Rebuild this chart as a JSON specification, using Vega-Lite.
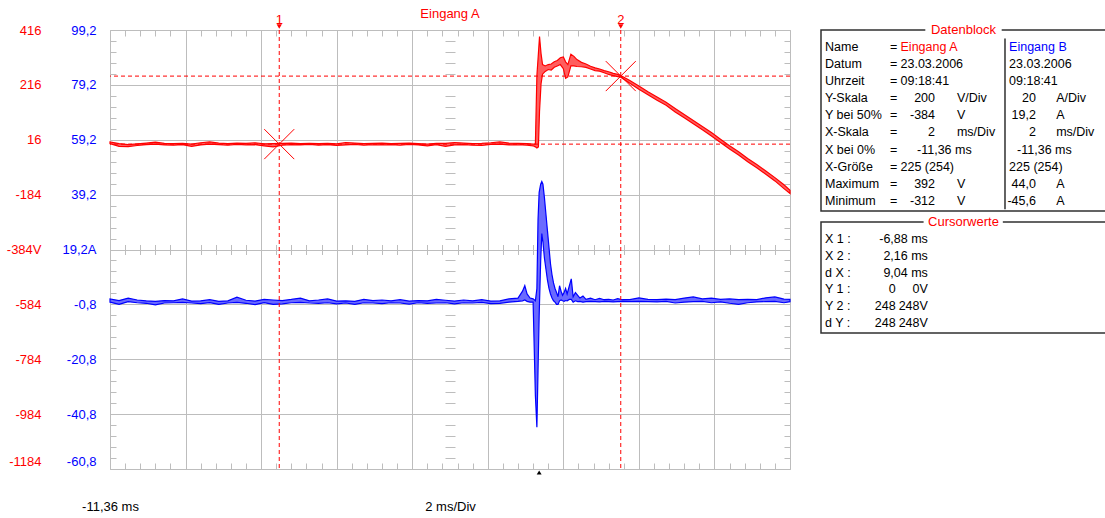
{
  "$schema": "https://vega.github.io/schema/vega-lite/v6.json",
  "padding": {"left": 6, "top": 8, "right": 0, "bottom": 0},
  "background": "white",
  "spacing": 27,
  "resolve": {"scale": {"x": "independent", "y": "independent"}},
  "config": {
    "view": {"stroke": null},
    "font": "Liberation Sans",
    "text": {"font": "Liberation Sans", "fontSize": 13, "color": "#000000"},
    "axis": {"labelFont": "Liberation Sans", "labelFontSize": 13, "titleFont": "Liberation Sans", "titleFontSize": 13, "titleFontWeight": "normal", "titleColor": "#000000", "labelColor": "#000000", "domain": false, "gridColor": "#bdbdbd", "gridWidth": 1, "tickColor": "#bdbdbd", "tickWidth": 1}
  },
  "datasets": {
    "red": [
      {"t": -11.36, "lo": 2, "hi": 8}, {"t": -11.12, "lo": -8, "hi": 2}, {"t": -10.88, "lo": -9, "hi": -2}, {"t": -10.64, "lo": -5, "hi": 1},
      {"t": -10.4, "lo": -2, "hi": 4}, {"t": -10.16, "lo": 0, "hi": 7}, {"t": -9.92, "lo": -3, "hi": 3}, {"t": -9.68, "lo": -4, "hi": 2},
      {"t": -9.44, "lo": -2, "hi": 3}, {"t": -9.2, "lo": -8, "hi": 0}, {"t": -8.96, "lo": -3, "hi": 5}, {"t": -8.72, "lo": 0, "hi": 8},
      {"t": -8.48, "lo": -2, "hi": 4}, {"t": -8.24, "lo": -4, "hi": 2}, {"t": -8.0, "lo": -1, "hi": 4}, {"t": -7.76, "lo": -3, "hi": 3},
      {"t": -7.52, "lo": -2, "hi": 5}, {"t": -7.28, "lo": -6, "hi": 1}, {"t": -7.04, "lo": -10, "hi": 2}, {"t": -6.8, "lo": -4, "hi": 3},
      {"t": -6.56, "lo": -2, "hi": 4}, {"t": -6.32, "lo": -3, "hi": 2}, {"t": -6.08, "lo": -1, "hi": 3}, {"t": -5.84, "lo": -4, "hi": 2},
      {"t": -5.6, "lo": -2, "hi": 3}, {"t": -5.36, "lo": -5, "hi": 1}, {"t": -5.12, "lo": -3, "hi": 6}, {"t": -4.88, "lo": -1, "hi": 4},
      {"t": -4.64, "lo": -4, "hi": 2}, {"t": -4.4, "lo": -2, "hi": 3}, {"t": -4.16, "lo": -3, "hi": 4}, {"t": -3.92, "lo": -2, "hi": 2},
      {"t": -3.68, "lo": -4, "hi": 3}, {"t": -3.44, "lo": -1, "hi": 4}, {"t": -3.2, "lo": -3, "hi": 2}, {"t": -2.96, "lo": -6, "hi": 0},
      {"t": -2.72, "lo": -2, "hi": 3}, {"t": -2.48, "lo": -8, "hi": 3}, {"t": -2.24, "lo": -3, "hi": 6}, {"t": -2.0, "lo": -2, "hi": 4},
      {"t": -1.76, "lo": -4, "hi": 2}, {"t": -1.52, "lo": -5, "hi": 3}, {"t": -1.28, "lo": -1, "hi": 5}, {"t": -1.04, "lo": 0, "hi": 8},
      {"t": -0.8, "lo": -3, "hi": 4}, {"t": -0.56, "lo": -2, "hi": 3}, {"t": -0.32, "lo": -4, "hi": 2}, {"t": -0.16, "lo": -6, "hi": 0},
      {"t": -0.1, "lo": -10, "hi": 0}, {"t": -0.06, "lo": -14, "hi": 250}, {"t": -0.02, "lo": -10, "hi": 330}, {"t": 0.01, "lo": 120, "hi": 392},
      {"t": 0.05, "lo": 220, "hi": 330}, {"t": 0.09, "lo": 255, "hi": 290}, {"t": 0.16, "lo": 265, "hi": 285}, {"t": 0.24, "lo": 272, "hi": 290},
      {"t": 0.32, "lo": 270, "hi": 292}, {"t": 0.4, "lo": 280, "hi": 300}, {"t": 0.48, "lo": 285, "hi": 305}, {"t": 0.56, "lo": 290, "hi": 315},
      {"t": 0.64, "lo": 275, "hi": 318}, {"t": 0.7, "lo": 240, "hi": 300}, {"t": 0.76, "lo": 245, "hi": 290}, {"t": 0.84, "lo": 285, "hi": 328},
      {"t": 0.92, "lo": 285, "hi": 320}, {"t": 1.0, "lo": 283, "hi": 308}, {"t": 1.12, "lo": 282, "hi": 298}, {"t": 1.24, "lo": 280, "hi": 292},
      {"t": 1.36, "lo": 274, "hi": 284}, {"t": 1.48, "lo": 268, "hi": 278}, {"t": 1.6, "lo": 266, "hi": 274}, {"t": 1.72, "lo": 260, "hi": 268},
      {"t": 1.84, "lo": 254, "hi": 264}, {"t": 1.96, "lo": 250, "hi": 258}, {"t": 2.08, "lo": 246, "hi": 254}, {"t": 2.16, "lo": 244, "hi": 250},
      {"t": 2.4, "lo": 222, "hi": 232}, {"t": 2.64, "lo": 200, "hi": 212}, {"t": 2.88, "lo": 180, "hi": 191}, {"t": 3.12, "lo": 160, "hi": 172},
      {"t": 3.36, "lo": 142, "hi": 153}, {"t": 3.6, "lo": 117, "hi": 130}, {"t": 3.84, "lo": 96, "hi": 108}, {"t": 4.08, "lo": 74, "hi": 86},
      {"t": 4.32, "lo": 52, "hi": 64}, {"t": 4.56, "lo": 30, "hi": 42}, {"t": 4.8, "lo": 6, "hi": 18}, {"t": 5.04, "lo": -18, "hi": -6},
      {"t": 5.28, "lo": -40, "hi": -28}, {"t": 5.52, "lo": -64, "hi": -52}, {"t": 5.76, "lo": -86, "hi": -74}, {"t": 6.0, "lo": -110, "hi": -98},
      {"t": 6.24, "lo": -134, "hi": -122}, {"t": 6.48, "lo": -162, "hi": -148}, {"t": 6.64, "lo": -180, "hi": -168}
    ],
    "blue": [
      {"t": -11.36, "lo": 0, "hi": 1.2}, {"t": -11.12, "lo": -0.8, "hi": 0.6}, {"t": -10.88, "lo": 0.2, "hi": 1.5}, {"t": -10.64, "lo": -0.2, "hi": 0.8},
      {"t": -10.4, "lo": -0.4, "hi": 0.5}, {"t": -10.16, "lo": -1.0, "hi": 0.3}, {"t": -9.92, "lo": -0.3, "hi": 0.6}, {"t": -9.68, "lo": -0.2, "hi": 0.5},
      {"t": -9.44, "lo": -0.1, "hi": 1.2}, {"t": -9.2, "lo": -0.3, "hi": 0.4}, {"t": -8.96, "lo": -0.5, "hi": 0.5}, {"t": -8.72, "lo": -0.2, "hi": 0.9},
      {"t": -8.48, "lo": -0.8, "hi": 0.3}, {"t": -8.24, "lo": -0.3, "hi": 0.5}, {"t": -8.0, "lo": -0.1, "hi": 1.8}, {"t": -7.76, "lo": -0.4, "hi": 0.7},
      {"t": -7.52, "lo": -0.9, "hi": 0.4}, {"t": -7.28, "lo": -0.2, "hi": 1.0}, {"t": -7.04, "lo": -0.8, "hi": 0.8}, {"t": -6.8, "lo": -0.6, "hi": 0.6},
      {"t": -6.56, "lo": -0.2, "hi": 1.0}, {"t": -6.32, "lo": -0.1, "hi": 1.5}, {"t": -6.08, "lo": -0.3, "hi": 0.5}, {"t": -5.84, "lo": -0.4, "hi": 0.8},
      {"t": -5.6, "lo": -0.2, "hi": 1.2}, {"t": -5.36, "lo": -0.6, "hi": 0.4}, {"t": -5.12, "lo": -0.3, "hi": 0.5}, {"t": -4.88, "lo": -0.8, "hi": 0.3},
      {"t": -4.64, "lo": -0.2, "hi": 1.0}, {"t": -4.4, "lo": -0.3, "hi": 0.6}, {"t": -4.16, "lo": -0.5, "hi": 0.8}, {"t": -3.92, "lo": -0.2, "hi": 0.5},
      {"t": -3.68, "lo": -0.3, "hi": 0.9}, {"t": -3.44, "lo": -0.7, "hi": 0.4}, {"t": -3.2, "lo": -0.2, "hi": 0.6}, {"t": -2.96, "lo": -0.4, "hi": 0.5},
      {"t": -2.72, "lo": -0.3, "hi": 1.0}, {"t": -2.48, "lo": -0.2, "hi": 0.7}, {"t": -2.24, "lo": -0.6, "hi": 0.4}, {"t": -2.0, "lo": -0.2, "hi": 0.8},
      {"t": -1.76, "lo": -0.3, "hi": 0.5}, {"t": -1.52, "lo": -0.1, "hi": 0.9}, {"t": -1.28, "lo": -0.5, "hi": 0.4}, {"t": -1.04, "lo": -0.4, "hi": 0.5},
      {"t": -0.8, "lo": 0.0, "hi": 1.2}, {"t": -0.56, "lo": 0.3, "hi": 1.5}, {"t": -0.44, "lo": 0.5, "hi": 4.0}, {"t": -0.38, "lo": 0.8, "hi": 6.0},
      {"t": -0.32, "lo": 0.3, "hi": 3.0}, {"t": -0.24, "lo": 0.0, "hi": 1.5}, {"t": -0.16, "lo": 0.0, "hi": 1.2}, {"t": -0.1, "lo": -34, "hi": 0.5},
      {"t": -0.06, "lo": -45.6, "hi": 5}, {"t": -0.03, "lo": -25, "hi": 30}, {"t": 0.0, "lo": -5, "hi": 40}, {"t": 0.04, "lo": 15, "hi": 43},
      {"t": 0.07, "lo": 25, "hi": 44}, {"t": 0.1, "lo": 22, "hi": 43}, {"t": 0.14, "lo": 16, "hi": 38}, {"t": 0.18, "lo": 12, "hi": 32},
      {"t": 0.22, "lo": 8, "hi": 26}, {"t": 0.26, "lo": 5, "hi": 20}, {"t": 0.3, "lo": 3, "hi": 14}, {"t": 0.34, "lo": 1.5, "hi": 10},
      {"t": 0.38, "lo": 0.5, "hi": 7}, {"t": 0.42, "lo": 0.0, "hi": 5}, {"t": 0.46, "lo": -0.8, "hi": 3.5}, {"t": 0.5, "lo": -0.8, "hi": 2},
      {"t": 0.54, "lo": 0.5, "hi": 6}, {"t": 0.58, "lo": 0.8, "hi": 4}, {"t": 0.62, "lo": 0.5, "hi": 2.5}, {"t": 0.66, "lo": 0.3, "hi": 3.5},
      {"t": 0.7, "lo": 0.6, "hi": 5}, {"t": 0.74, "lo": 0.5, "hi": 3}, {"t": 0.8, "lo": 1.0, "hi": 6}, {"t": 0.85, "lo": 1.0, "hi": 8.5},
      {"t": 0.9, "lo": 0.0, "hi": 2}, {"t": 0.96, "lo": 0.5, "hi": 3.5}, {"t": 1.02, "lo": 0.2, "hi": 2.5}, {"t": 1.08, "lo": 0.3, "hi": 1.5},
      {"t": 1.16, "lo": 0.0, "hi": 2.2}, {"t": 1.24, "lo": 0.2, "hi": 1.0}, {"t": 1.36, "lo": 0.3, "hi": 1.5}, {"t": 1.48, "lo": 0.2, "hi": 0.9},
      {"t": 1.6, "lo": 0.1, "hi": 1.4}, {"t": 1.72, "lo": 0.3, "hi": 0.9}, {"t": 1.84, "lo": 0.2, "hi": 1.0}, {"t": 1.96, "lo": 0.1, "hi": 0.8},
      {"t": 2.08, "lo": 0.2, "hi": 1.3}, {"t": 2.2, "lo": 0.3, "hi": 0.9}, {"t": 2.4, "lo": 0.2, "hi": 0.9}, {"t": 2.64, "lo": 0.3, "hi": 1.6},
      {"t": 2.88, "lo": 0.2, "hi": 1.0}, {"t": 3.12, "lo": 0.1, "hi": 0.9}, {"t": 3.36, "lo": 0.3, "hi": 1.1}, {"t": 3.6, "lo": -0.3, "hi": 0.9},
      {"t": 3.84, "lo": 0.0, "hi": 1.5}, {"t": 4.08, "lo": 0.2, "hi": 1.9}, {"t": 4.32, "lo": 0.3, "hi": 1.2}, {"t": 4.56, "lo": -0.2, "hi": 1.5},
      {"t": 4.8, "lo": 0.1, "hi": 1.0}, {"t": 5.04, "lo": -0.4, "hi": 1.2}, {"t": 5.28, "lo": -0.8, "hi": 0.9}, {"t": 5.52, "lo": -0.2, "hi": 1.0},
      {"t": 5.76, "lo": 0.1, "hi": 0.9}, {"t": 6.0, "lo": 0.2, "hi": 1.6}, {"t": 6.24, "lo": 0.3, "hi": 1.9}, {"t": 6.48, "lo": -0.2, "hi": 1.1},
      {"t": 6.64, "lo": 0.2, "hi": 1.0}
    ],
    "cursors": [
      {"t": -6.88, "v": 0, "label": "1"},
      {"t": 2.16, "v": 248, "label": "2"}
    ],
    "table": [
      {"row": 0, "col": "title", "text": "Datenblock"},
      {"row": 11.24, "col": "title", "text": "Cursorwerte"},
      {"row": 1, "col": "key", "text": "Name"}, {"row": 2, "col": "key", "text": "Datum"}, {"row": 3, "col": "key", "text": "Uhrzeit"},
      {"row": 4, "col": "key", "text": "Y-Skala"}, {"row": 5, "col": "key", "text": "Y bei 50%"}, {"row": 6, "col": "key", "text": "X-Skala"},
      {"row": 7, "col": "key", "text": "X bei 0%"}, {"row": 8, "col": "key", "text": "X-Größe"}, {"row": 9, "col": "key", "text": "Maximum"},
      {"row": 10, "col": "key", "text": "Minimum"},
      {"row": 1, "col": "eq", "text": "="}, {"row": 2, "col": "eq", "text": "="}, {"row": 3, "col": "eq", "text": "="}, {"row": 4, "col": "eq", "text": "="},
      {"row": 5, "col": "eq", "text": "="}, {"row": 6, "col": "eq", "text": "="}, {"row": 7, "col": "eq", "text": "="}, {"row": 8, "col": "eq", "text": "="},
      {"row": 9, "col": "eq", "text": "="}, {"row": 10, "col": "eq", "text": "="},
      {"row": 1, "col": "nameA", "text": "Eingang A"},
      {"row": 2, "col": "aL", "text": "23.03.2006"}, {"row": 3, "col": "aL", "text": "09:18:41"}, {"row": 8, "col": "aL", "text": "225 (254)"},
      {"row": 4, "col": "aR", "text": "200"}, {"row": 5, "col": "aR", "text": "-384"}, {"row": 6, "col": "aR", "text": "2"},
      {"row": 9, "col": "aR", "text": "392"}, {"row": 10, "col": "aR", "text": "-312"},
      {"row": 7, "col": "aM", "text": "-11,36 ms"},
      {"row": 4, "col": "aU", "text": "V/Div"}, {"row": 5, "col": "aU", "text": "V"}, {"row": 6, "col": "aU", "text": "ms/Div"},
      {"row": 9, "col": "aU", "text": "V"}, {"row": 10, "col": "aU", "text": "V"},
      {"row": 1, "col": "nameB", "text": "Eingang B"},
      {"row": 2, "col": "bL", "text": "23.03.2006"}, {"row": 3, "col": "bL", "text": "09:18:41"}, {"row": 8, "col": "bL", "text": "225 (254)"},
      {"row": 4, "col": "bR", "text": "20"}, {"row": 5, "col": "bR", "text": "19,2"}, {"row": 6, "col": "bR", "text": "2"},
      {"row": 9, "col": "bR", "text": "44,0"}, {"row": 10, "col": "bR", "text": "-45,6"},
      {"row": 7, "col": "bM", "text": "-11,36 ms"},
      {"row": 4, "col": "bU", "text": "A/Div"}, {"row": 5, "col": "bU", "text": "A"}, {"row": 6, "col": "bU", "text": "ms/Div"},
      {"row": 9, "col": "bU", "text": "A"}, {"row": 10, "col": "bU", "text": "A"},
      {"row": 12.24, "col": "key", "text": "X 1 :"}, {"row": 13.22, "col": "key", "text": "X 2 :"}, {"row": 14.2, "col": "key", "text": "d X :"},
      {"row": 15.18, "col": "key", "text": "Y 1 :"}, {"row": 16.16, "col": "key", "text": "Y 2 :"}, {"row": 17.14, "col": "key", "text": "d Y :"},
      {"row": 12.24, "col": "cv2", "text": "-6,88 ms"}, {"row": 13.22, "col": "cv2", "text": "2,16 ms"}, {"row": 14.2, "col": "cv2", "text": "9,04 ms"},
      {"row": 15.18, "col": "cv2", "text": "0V"}, {"row": 16.16, "col": "cv2", "text": "248V"}, {"row": 17.14, "col": "cv2", "text": "248V"},
      {"row": 15.18, "col": "cv1", "text": "0"}, {"row": 16.16, "col": "cv1", "text": "248"}, {"row": 17.14, "col": "cv1", "text": "248"}
    ]
  },
  "hconcat": [
    {
      "width": 680,
      "height": 439,
      "resolve": {"scale": {"y": "independent"}, "axis": {"x": "independent", "y": "independent"}},
      "layer": [
        {
          "data": {"name": "blue"},
          "mark": {"type": "area", "fill": "#6a6aff", "stroke": "#0000ff", "strokeWidth": 1.2, "fillOpacity": 1},
          "encoding": {
            "x": {"field": "t", "type": "quantitative", "scale": {"domain": [-11.36, 6.64], "nice": false, "zero": false},
              "axis": {"orient": "top", "values": [-11.36, -10.96, -10.56, -10.16, -9.76, -9.36, -8.96, -8.56, -8.16, -7.76, -7.36, -6.96, -6.56, -6.16, -5.76, -5.36, -4.96, -4.56, -4.16, -3.76, -3.36, -2.96, -2.56, -2.16, -1.76, -1.36, -0.96, -0.56, -0.16, 0.24, 0.64, 1.04, 1.44, 1.84, 2.24, 2.64, 3.04, 3.44, 3.84, 4.24, 4.64, 5.04, 5.44, 5.84, 6.24, 6.64], "labels": false, "grid": false, "ticks": true, "tickSize": -6, "title": null}},
            "y": {"field": "lo", "type": "quantitative", "scale": {"domain": [-60.8, 99.2], "nice": false, "zero": false},
              "axis": {"orient": "left", "offset": 0, "values": [99.2, 79.2, 59.2, 39.2, 19.2, -0.8, -20.8, -40.8, -60.8], "grid": true, "ticks": false, "tickSize": 0, "labelPadding": 14, "labelColor": "#0000ff", "labelExpr": "datum.value == 19.2 ? '19,2A' : replace('' + datum.value, '.', ',')", "labelOffset": {"condition": {"test": "datum.value < -60", "value": -8}, "value": 0}, "labelOverlap": false, "title": null}},
            "y2": {"field": "hi"}
          }
        },
        {
          "data": {"name": "red"},
          "mark": {"type": "area", "fill": "#ff5e5e", "stroke": "#ff0000", "strokeWidth": 1.2, "fillOpacity": 1},
          "encoding": {
            "x": {"field": "t", "type": "quantitative", "scale": {"domain": [-11.36, 6.64], "nice": false, "zero": false},
              "axis": {"orient": "bottom", "values": [-11.36, -9.36, -7.36, -5.36, -3.36, -1.36, 0.64, 2.64, 4.64, 6.64], "grid": true, "ticks": false, "tickSize": 0, "labelExpr": "datum.value < -11 ? '-11,36 ms' : ''", "labelPadding": 31, "labelFlush": false, "labelOverlap": false, "title": "2 ms/Div", "titlePadding": -13}},
            "y": {"field": "lo", "type": "quantitative", "scale": {"domain": [-1184, 416], "nice": false, "zero": false},
              "axis": {"orient": "left", "offset": 55, "values": [416, 216, 16, -184, -384, -584, -784, -984, -1184], "grid": false, "ticks": false, "tickSize": 0, "labelPadding": 14, "labelColor": "#ff0000", "labelExpr": "datum.value == -384 ? '-384V' : '' + datum.value", "labelOffset": {"condition": {"test": "datum.value < -1100", "value": -8}, "value": 0}, "labelOverlap": false, "title": null}},
            "y2": {"field": "hi"}
          }
        },
        {
          "data": {"name": "cursors"},
          "mark": {"type": "rule", "color": "#ff0000", "strokeWidth": 1, "strokeDash": [4, 3]},
          "encoding": {
            "x": {"field": "t", "type": "quantitative", "scale": {"domain": [-11.36, 6.64], "nice": false, "zero": false},
              "axis": {"orient": "bottom", "values": [-11.36, -10.96, -10.56, -10.16, -9.76, -9.36, -8.96, -8.56, -8.16, -7.76, -7.36, -6.96, -6.56, -6.16, -5.76, -5.36, -4.96, -4.56, -4.16, -3.76, -3.36, -2.96, -2.56, -2.16, -1.76, -1.36, -0.96, -0.56, -0.16, 0.24, 0.64, 1.04, 1.44, 1.84, 2.24, 2.64, 3.04, 3.44, 3.84, 4.24, 4.64, 5.04, 5.44, 5.84, 6.24, 6.64], "labels": false, "grid": false, "ticks": true, "tickSize": -6, "title": null}}
          }
        },
        {
          "data": {"name": "cursors"},
          "mark": {"type": "rule", "color": "#ff0000", "strokeWidth": 1, "strokeDash": [4, 3]},
          "encoding": {
            "y": {"field": "v", "type": "quantitative", "scale": {"domain": [-1184, 416], "nice": false, "zero": false},
              "axis": {"orient": "left", "offset": 0, "values": [-1184, -1144, -1104, -1064, -1024, -984, -944, -904, -864, -824, -784, -744, -704, -664, -624, -584, -544, -504, -464, -424, -384, -344, -304, -264, -224, -184, -144, -104, -64, -24, 16, 56, 96, 136, 176, 216, 256, 296, 336, 376, 416], "labels": false, "grid": false, "ticks": true, "tickSize": -6, "title": null}}
          }
        },
        {
          "data": {"name": "cursors"},
          "mark": {"type": "point", "shape": "M-1,-1L1,1M-1,1L1,-1", "size": 900, "filled": false, "stroke": "#ff0000", "strokeWidth": 1, "opacity": 1},
          "encoding": {
            "x": {"field": "t", "type": "quantitative", "scale": {"domain": [-11.36, 6.64], "nice": false, "zero": false},
              "axis": {"orient": "bottom", "offset": -224.5, "values": [-11.36, -10.96, -10.56, -10.16, -9.76, -9.36, -8.96, -8.56, -8.16, -7.76, -7.36, -6.96, -6.56, -6.16, -5.76, -5.36, -4.96, -4.56, -4.16, -3.76, -3.36, -2.96, -2.56, -2.16, -1.76, -1.36, -0.96, -0.56, -0.16, 0.24, 0.64, 1.04, 1.44, 1.84, 2.24, 2.64, 3.04, 3.44, 3.84, 4.24, 4.64, 5.04, 5.44, 5.84, 6.24, 6.64], "labels": false, "grid": false, "ticks": true, "tickSize": 10, "title": null}},
            "y": {"field": "v", "type": "quantitative", "scale": {"domain": [-1184, 416], "nice": false, "zero": false},
              "axis": {"orient": "right", "offset": 0, "values": [-1184, -1144, -1104, -1064, -1024, -984, -944, -904, -864, -824, -784, -744, -704, -664, -624, -584, -544, -504, -464, -424, -384, -344, -304, -264, -224, -184, -144, -104, -64, -24, 16, 56, 96, 136, 176, 216, 256, 296, 336, 376, 416], "labels": false, "grid": false, "ticks": true, "tickSize": -6, "title": null}}
          }
        },
        {
          "data": {"name": "cursors"},
          "mark": {"type": "text", "color": "#ff0000", "baseline": "middle", "align": "center", "dy": -10},
          "encoding": {
            "x": {"field": "t", "type": "quantitative", "scale": {"domain": [-11.36, 6.64], "nice": false, "zero": false}, "axis": null},
            "y": {"datum": 416, "type": "quantitative", "scale": {"domain": [-1184, 416], "nice": false, "zero": false},
              "axis": {"orient": "left", "offset": -345, "values": [-1184, -1144, -1104, -1064, -1024, -984, -944, -904, -864, -824, -784, -744, -704, -664, -624, -584, -544, -504, -464, -424, -384, -344, -304, -264, -224, -184, -144, -104, -64, -24, 16, 56, 96, 136, 176, 216, 256, 296, 336, 376, 416], "labels": false, "grid": false, "ticks": true, "tickSize": 10, "title": null}},
            "text": {"field": "label"}
          }
        },
        {
          "data": {"name": "cursors"},
          "mark": {"type": "point", "shape": "triangle-down", "filled": true, "color": "#ff0000", "size": 28, "opacity": 1, "yOffset": -3.5},
          "encoding": {
            "x": {"field": "t", "type": "quantitative", "scale": {"domain": [-11.36, 6.64], "nice": false, "zero": false}, "axis": null},
            "y": {"datum": 416, "type": "quantitative", "scale": {"domain": [-1184, 416], "nice": false, "zero": false}, "axis": null}
          }
        },
        {
          "data": {"values": [{"name": "Eingang A"}]},
          "mark": {"type": "text", "color": "#ff0000", "baseline": "middle", "align": "center", "dy": -16},
          "encoding": {
            "x": {"datum": -2.36, "type": "quantitative", "scale": {"domain": [-11.36, 6.64], "nice": false, "zero": false}, "axis": null},
            "y": {"datum": 416, "type": "quantitative", "scale": {"domain": [-1184, 416], "nice": false, "zero": false}, "axis": null},
            "text": {"field": "name"}
          }
        },
        {
          "data": {"values": [{}]},
          "mark": {"type": "point", "shape": "triangle-up", "filled": true, "color": "#000000", "size": 24, "opacity": 1, "yOffset": 3.5},
          "encoding": {
            "x": {"datum": 0, "type": "quantitative", "scale": {"domain": [-11.36, 6.64], "nice": false, "zero": false}, "axis": null},
            "y": {"datum": -1184, "type": "quantitative", "scale": {"domain": [-1184, 416], "nice": false, "zero": false}, "axis": null}
          }
        }
      ]
    },
    {
      "width": 285,
      "height": 304,
      "data": {"name": "table"},
      "layer": [
        {
          "data": {"values": [{}]},
          "mark": {"type": "rect", "fillOpacity": 0, "stroke": "#303030", "strokeWidth": 1.5},
          "encoding": {
            "x": {"datum": 0, "type": "quantitative", "scale": {"domain": [0, 100], "nice": false, "zero": false}, "axis": null},
            "x2": {"datum": 100},
            "y": {"datum": 0, "type": "quantitative", "scale": {"domain": [0, 17.8], "nice": false, "zero": false, "reverse": true}, "axis": null},
            "y2": {"datum": 10.6}
          }
        },
        {
          "data": {"values": [{}]},
          "mark": {"type": "rect", "fillOpacity": 0, "stroke": "#303030", "strokeWidth": 1.5},
          "encoding": {
            "x": {"datum": 0, "type": "quantitative", "axis": null},
            "x2": {"datum": 100},
            "y": {"datum": 11.24, "type": "quantitative", "axis": null},
            "y2": {"datum": 17.74}
          }
        },
        {
          "data": {"values": [{}]},
          "mark": {"type": "rule", "stroke": "#303030", "strokeWidth": 1.5},
          "encoding": {
            "x": {"datum": 64.56, "type": "quantitative", "axis": null},
            "y": {"datum": 0.5, "type": "quantitative", "axis": null},
            "y2": {"datum": 10.5}
          }
        },
        {
          "data": {"values": [{}]},
          "mark": {"type": "rect", "fill": "#ffffff", "fillOpacity": 1, "strokeWidth": 0},
          "encoding": {
            "x": {"datum": 36.6, "type": "quantitative", "axis": null},
            "x2": {"datum": 63.4},
            "y": {"datum": -0.4, "type": "quantitative", "axis": null},
            "y2": {"datum": 0.4}
          }
        },
        {
          "data": {"values": [{}]},
          "mark": {"type": "rect", "fill": "#ffffff", "fillOpacity": 1, "strokeWidth": 0},
          "encoding": {
            "x": {"datum": 36.0, "type": "quantitative", "axis": null},
            "x2": {"datum": 63.8},
            "y": {"datum": 10.84, "type": "quantitative", "axis": null},
            "y2": {"datum": 11.64}
          }
        },
        {
          "transform": [{"filter": "datum.col == 'title'"}],
          "mark": {"type": "text", "align": "center", "baseline": "middle", "color": "#ff0000", "fontSize": 13},
          "encoding": {"x": {"datum": 50, "type": "quantitative", "axis": null}, "y": {"field": "row", "type": "quantitative", "axis": null}, "text": {"field": "text"}}
        },
        {
          "transform": [{"filter": "datum.col == 'key'"}],
          "mark": {"type": "text", "align": "left", "baseline": "middle", "fontSize": 12.5},
          "encoding": {"x": {"datum": 1.4, "type": "quantitative", "axis": null}, "y": {"field": "row", "type": "quantitative", "axis": null}, "text": {"field": "text"}}
        },
        {
          "transform": [{"filter": "datum.col == 'eq'"}],
          "mark": {"type": "text", "align": "left", "baseline": "middle", "fontSize": 12.5},
          "encoding": {"x": {"datum": 24.2, "type": "quantitative", "axis": null}, "y": {"field": "row", "type": "quantitative", "axis": null}, "text": {"field": "text"}}
        },
        {
          "transform": [{"filter": "datum.col == 'nameA'"}],
          "mark": {"type": "text", "align": "left", "baseline": "middle", "color": "#ff0000", "fontSize": 12.5},
          "encoding": {"x": {"datum": 27.9, "type": "quantitative", "axis": null}, "y": {"field": "row", "type": "quantitative", "axis": null}, "text": {"field": "text"}}
        },
        {
          "transform": [{"filter": "datum.col == 'aL'"}],
          "mark": {"type": "text", "align": "left", "baseline": "middle", "fontSize": 12.5},
          "encoding": {"x": {"datum": 27.9, "type": "quantitative", "axis": null}, "y": {"field": "row", "type": "quantitative", "axis": null}, "text": {"field": "text"}}
        },
        {
          "transform": [{"filter": "datum.col == 'aR'"}],
          "mark": {"type": "text", "align": "right", "baseline": "middle", "fontSize": 12.5},
          "encoding": {"x": {"datum": 40.0, "type": "quantitative", "axis": null}, "y": {"field": "row", "type": "quantitative", "axis": null}, "text": {"field": "text"}}
        },
        {
          "transform": [{"filter": "datum.col == 'aM'"}],
          "mark": {"type": "text", "align": "left", "baseline": "middle", "fontSize": 12.5},
          "encoding": {"x": {"datum": 33.7, "type": "quantitative", "axis": null}, "y": {"field": "row", "type": "quantitative", "axis": null}, "text": {"field": "text"}}
        },
        {
          "transform": [{"filter": "datum.col == 'aU'"}],
          "mark": {"type": "text", "align": "left", "baseline": "middle", "fontSize": 12.5},
          "encoding": {"x": {"datum": 47.7, "type": "quantitative", "axis": null}, "y": {"field": "row", "type": "quantitative", "axis": null}, "text": {"field": "text"}}
        },
        {
          "transform": [{"filter": "datum.col == 'nameB'"}],
          "mark": {"type": "text", "align": "left", "baseline": "middle", "color": "#0000ff", "fontSize": 12.5},
          "encoding": {"x": {"datum": 66.0, "type": "quantitative", "axis": null}, "y": {"field": "row", "type": "quantitative", "axis": null}, "text": {"field": "text"}}
        },
        {
          "transform": [{"filter": "datum.col == 'bL'"}],
          "mark": {"type": "text", "align": "left", "baseline": "middle", "fontSize": 12.5},
          "encoding": {"x": {"datum": 66.0, "type": "quantitative", "axis": null}, "y": {"field": "row", "type": "quantitative", "axis": null}, "text": {"field": "text"}}
        },
        {
          "transform": [{"filter": "datum.col == 'bR'"}],
          "mark": {"type": "text", "align": "right", "baseline": "middle", "fontSize": 12.5},
          "encoding": {"x": {"datum": 75.4, "type": "quantitative", "axis": null}, "y": {"field": "row", "type": "quantitative", "axis": null}, "text": {"field": "text"}}
        },
        {
          "transform": [{"filter": "datum.col == 'bM'"}],
          "mark": {"type": "text", "align": "left", "baseline": "middle", "fontSize": 12.5},
          "encoding": {"x": {"datum": 68.8, "type": "quantitative", "axis": null}, "y": {"field": "row", "type": "quantitative", "axis": null}, "text": {"field": "text"}}
        },
        {
          "transform": [{"filter": "datum.col == 'bU'"}],
          "mark": {"type": "text", "align": "left", "baseline": "middle", "fontSize": 12.5},
          "encoding": {"x": {"datum": 82.5, "type": "quantitative", "axis": null}, "y": {"field": "row", "type": "quantitative", "axis": null}, "text": {"field": "text"}}
        },
        {
          "transform": [{"filter": "datum.col == 'cv1'"}],
          "mark": {"type": "text", "align": "right", "baseline": "middle", "fontSize": 12.5},
          "encoding": {"x": {"datum": 26.2, "type": "quantitative", "axis": null}, "y": {"field": "row", "type": "quantitative", "axis": null}, "text": {"field": "text"}}
        },
        {
          "transform": [{"filter": "datum.col == 'cv2'"}],
          "mark": {"type": "text", "align": "right", "baseline": "middle", "fontSize": 12.5},
          "encoding": {"x": {"datum": 37.5, "type": "quantitative", "axis": null}, "y": {"field": "row", "type": "quantitative", "axis": null}, "text": {"field": "text"}}
        }
      ]
    }
  ]
}
